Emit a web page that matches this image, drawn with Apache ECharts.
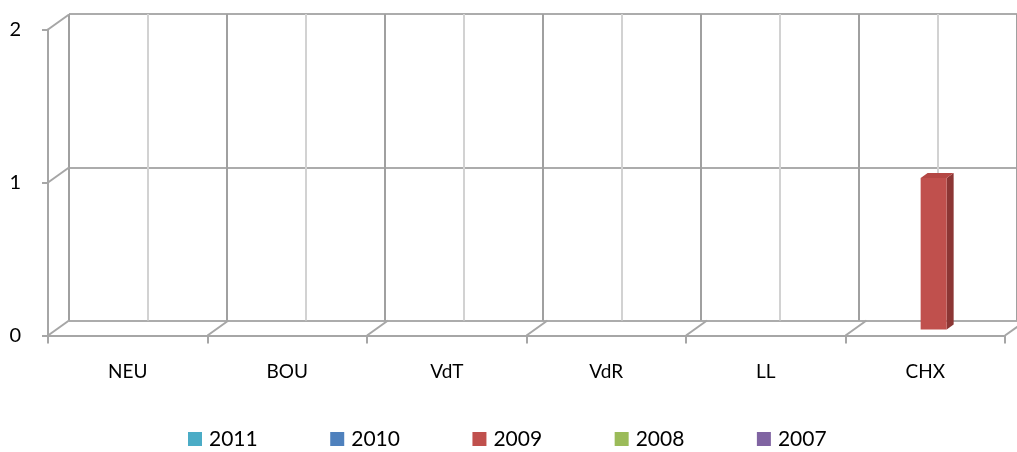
<!DOCTYPE html>
<html>
<head>
<meta charset="utf-8">
<script src="https://cdn.jsdelivr.net/npm/echarts@6/dist/echarts.min.js"></script>
<style>html,body{margin:0;padding:0;background:#fff;}#c{width:1017px;height:452px;}</style>
</head>
<body>
<div id="c"></div>
<script>
const categories = ['NEU', 'BOU', 'VdT', 'VdR', 'LL', 'CHX'];
const seriesNames = ['2011', '2010', '2009', '2008', '2007'];
const values2011 = [0, 0, 0, 0, 0, 0];
const values2010 = [0, 0, 0, 0, 0, 0];
const values2009 = [0, 0, 0, 0, 0, 1];
const values2008 = [0, 0, 0, 0, 0, 0];
const values2007 = [0, 0, 0, 0, 0, 0];
const yTicks = [0, 1, 2];

const seriesValues = [values2011, values2010, values2009, values2008, values2007];
const colors = ['#4BACC6', '#4F81BD', '#C0504D', '#9BBB59', '#8064A2'];
const topColors = ['#5bb6cf', '#5d8cc4', '#b44744', '#a5c468', '#8a70ab'];
const sideColors = ['#357f93', '#3a5f8c', '#8c3634', '#71893f', '#5d4977'];

const FONT = 'Lato';
const DX = 21, DY = -15;      // depth offset of the back wall
const D0 = 0.4;               // bar front-face depth fraction
const BW = 26;                // bar width px
const SX = 7, SY = -5;        // bar side depth

const chart = echarts.init(document.getElementById('c'), null, {renderer: 'canvas'});

const barSeries = seriesValues.map((vals, k) => ({
  name: seriesNames[k],
  type: 'custom',
  xAxisIndex: 1,
  yAxisIndex: 1,
  z: 10,
  itemStyle: {color: colors[k]},
  data: vals.map((v, i) => [i, v]),
  renderItem: function (params, api) {
    const v = api.value(1);
    if (!v) return;
    const i = api.value(0);
    const base = api.coord([i, 0]);
    const top = api.coord([i, v]);
    const cx = base[0] + (k - 2) * BW + D0 * DX;
    const x0 = cx - BW / 2, x1 = cx + BW / 2;
    const yb = base[1] + D0 * DY, yt = top[1] + D0 * DY + 1.5;
    return {
      type: 'group',
      children: [
        {type: 'polygon', shape: {points: [[x1, yt], [x1 + SX, yt + SY], [x1 + SX, yb + SY], [x1, yb]]},
         style: {fill: sideColors[k]}},
        {type: 'polygon', shape: {points: [[x0, yt], [x0 + SX, yt + SY], [x1 + SX, yt + SY], [x1, yt]]},
         style: {fill: topColors[k]}},
        {type: 'rect', shape: {x: x0, y: yt, width: BW, height: yb - yt},
         style: {fill: colors[k]}}
      ]
    };
  }
}));

const frameSeries = {
  type: 'custom',
  xAxisIndex: 1,
  yAxisIndex: 1,
  z: 3,
  silent: true,
  data: [[0, 0]],
  renderItem: function (params, api) {
    const children = [];
    const band = api.size([1, 0])[0];
    const lineStyle = {stroke: '#a6a6a6', lineWidth: 2};
    yTicks.forEach(t => {
      const p = api.coord([0, t]);
      const x = p[0] - band / 2;
      children.push({type: 'line', shape: {x1: x, y1: p[1], x2: x + DX, y2: p[1] + DY}, style: lineStyle});
    });
    for (let i = 0; i < categories.length; i++) {
      const p = api.coord([i, 0]);
      const x = p[0] + band / 2;
      children.push({type: 'line', shape: {x1: x, y1: p[1], x2: x + DX, y2: p[1] + DY}, style: lineStyle});
    }
    return {type: 'group', children: children};
  }
};

const option = {
  animation: false,
  backgroundColor: '#ffffff',
  textStyle: {fontFamily: FONT},
  legend: {
    left: 188,
    top: 428,
    padding: 0,
    itemWidth: 14,
    itemHeight: 14,
    itemGap: 72.5,
    icon: 'rect',
    data: seriesNames,
    textStyle: {fontFamily: FONT, fontSize: 21, lineHeight: 22, color: '#000', padding: [0, 0, 0, 2]}
  },
  grid: [
    {left: 69, right: -9, top: 14, bottom: 131.5},
    {left: 48, right: 12, top: 29.5, bottom: 116.5}
  ],
  xAxis: [
    {
      gridIndex: 0, type: 'value', min: 0, max: 12, interval: 1,
      axisLine: {show: false}, axisTick: {show: false}, axisLabel: {show: false},
      splitLine: {show: true, lineStyle: {color: ['#a0a0a0', '#d2d2d2'], width: 2}}
    },
    {
      gridIndex: 1, type: 'category', data: categories, boundaryGap: true,
      axisLine: {show: true, lineStyle: {color: '#a6a6a6', width: 2}},
      axisTick: {show: true, length: 8, lineStyle: {color: '#a6a6a6', width: 2}},
      axisLabel: {color: '#000', fontSize: 19, fontFamily: FONT, margin: 27},
      splitLine: {show: false}
    }
  ],
  yAxis: [
    {
      gridIndex: 0, type: 'value', min: 0, max: 2, interval: 1,
      axisLine: {show: false}, axisTick: {show: false}, axisLabel: {show: false},
      splitLine: {show: true, lineStyle: {color: '#acacac', width: 2}}
    },
    {
      gridIndex: 1, type: 'value', min: 0, max: 2, interval: 1,
      axisLine: {show: true, lineStyle: {color: '#a6a6a6', width: 2}},
      axisTick: {show: true, length: 6, lineStyle: {color: '#a6a6a6', width: 2}},
      axisLabel: {color: '#000', fontSize: 20, fontFamily: FONT, margin: 27},
      splitLine: {show: false}
    }
  ],
  series: [frameSeries].concat(barSeries)
};
chart.setOption(option);
</script>
</body>
</html>
